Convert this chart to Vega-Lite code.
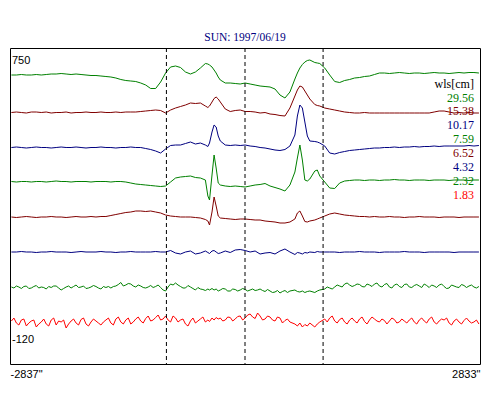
{
  "$schema": "https://vega.github.io/schema/vega-lite/v6.json",
  "width": 470,
  "height": 316,
  "autosize": {"type": "none"},
  "padding": {"left": 10, "top": 48, "right": 20, "bottom": 36},
  "background": "white",
  "title": {"text": "SUN: 1997/06/19", "font": "Liberation Serif", "fontSize": 11.5, "fontWeight": "normal", "color": "#000080", "offset": 4, "anchor": "middle"},
  "config": {"view": {"stroke": "black", "strokeWidth": 1}},
  "datasets": {
    "curves": [
      {"x":-2820,"a":289,"b":251.5,"c":216.5,"d":182.5,"e":147,"f":112,"g":77,"h":43},
      {"x":-2760,"a":289,"b":252,"c":217,"d":182,"e":146.5,"f":112,"g":78,"h":41},
      {"x":-2700,"a":289.5,"b":251.5,"c":216.5,"d":182.5,"e":147,"f":112.5,"g":75.5,"h":44},
      {"x":-2640,"a":289,"b":251,"c":216,"d":182.5,"e":147.5,"f":112,"g":78,"h":38},
      {"x":-2580,"a":289,"b":252,"c":216.5,"d":182,"e":147,"f":112,"g":76,"h":43},
      {"x":-2520,"a":289.5,"b":252,"c":217,"d":182.5,"e":146.5,"f":111.5,"g":78.5,"h":37},
      {"x":-2460,"a":289,"b":251.5,"c":216.5,"d":182.5,"e":147,"f":112,"g":77,"h":42},
      {"x":-2400,"a":289.5,"b":252,"c":216.5,"d":182,"e":147,"f":112,"g":75,"h":40},
      {"x":-2340,"a":290,"b":251,"c":216,"d":182.5,"e":147.5,"f":112.5,"g":76.5,"h":44},
      {"x":-2280,"a":290,"b":251.5,"c":216.5,"d":183,"e":147,"f":112,"g":78,"h":39},
      {"x":-2220,"a":290.5,"b":251.5,"c":217,"d":182.5,"e":147,"f":112,"g":74,"h":42},
      {"x":-2160,"a":290,"b":252,"c":216.5,"d":182.5,"e":146.5,"f":112,"g":77,"h":36},
      {"x":-2100,"a":289.5,"b":251,"c":216.5,"d":182,"e":147,"f":111.5,"g":76,"h":43},
      {"x":-2040,"a":290,"b":251.5,"c":217,"d":182.5,"e":147.5,"f":112,"g":79,"h":41},
      {"x":-1980,"a":289.5,"b":251.5,"c":216.5,"d":182.5,"e":147,"f":112.5,"g":77,"h":44.5},
      {"x":-1920,"a":289,"b":252,"c":216,"d":182.5,"e":147,"f":112,"g":75.5,"h":40},
      {"x":-1860,"a":288.5,"b":251.5,"c":216.5,"d":182,"e":147.5,"f":112,"g":77,"h":42},
      {"x":-1800,"a":288.5,"b":251.5,"c":216.5,"d":182.5,"e":147,"f":112,"g":77.5,"h":43},
      {"x":-1740,"a":288,"b":252,"c":217,"d":182.5,"e":147.5,"f":112.5,"g":75,"h":39},
      {"x":-1680,"a":287.5,"b":251.5,"c":216.5,"d":182.5,"e":147.5,"f":112,"g":76.5,"h":44},
      {"x":-1620,"a":287,"b":251.5,"c":216.5,"d":182,"e":148.5,"f":112,"g":76,"h":41},
      {"x":-1560,"a":286,"b":252,"c":216,"d":182.5,"e":149.5,"f":111.5,"g":78,"h":45},
      {"x":-1500,"a":284.5,"b":251.5,"c":216.5,"d":182.5,"e":150.5,"f":112,"g":81.5,"h":42},
      {"x":-1440,"a":283.5,"b":252,"c":216.5,"d":182,"e":151.5,"f":112,"g":79,"h":44},
      {"x":-1380,"a":283,"b":252,"c":217,"d":181,"e":152,"f":112.5,"g":80,"h":40},
      {"x":-1320,"a":282.5,"b":252,"c":216.5,"d":180,"e":153,"f":112,"g":77,"h":45},
      {"x":-1260,"a":281,"b":252.5,"c":216.5,"d":179.5,"e":153,"f":112,"g":78,"h":43},
      {"x":-1200,"a":279,"b":253,"c":215.5,"d":179,"e":152.5,"f":112,"g":76,"h":45.5},
      {"x":-1140,"a":275.5,"b":253.5,"c":214.5,"d":178.5,"e":153,"f":112,"g":78.5,"h":43},
      {"x":-1080,"a":275.5,"b":254,"c":213,"d":178,"e":152,"f":112.5,"g":77.5,"h":46.5},
      {"x":-1020,"a":282,"b":253.5,"c":211,"d":177.5,"e":151,"f":112,"g":76.5,"h":44},
      {"x":-960,"a":291,"b":251,"c":215,"d":178,"e":149,"f":112,"g":73,"h":48},
      {"x":-900,"a":297,"b":254,"c":218.5,"d":182,"e":148,"f":113.5,"g":80,"h":42},
      {"x":-840,"a":298,"b":256,"c":219,"d":186,"e":147.5,"f":111,"g":81,"h":46},
      {"x":-780,"a":296.5,"b":257.5,"c":219,"d":187,"e":147,"f":110,"g":77.5,"h":44},
      {"x":-720,"a":292,"b":259,"c":220.5,"d":187.5,"e":147,"f":112,"g":76,"h":40},
      {"x":-660,"a":290,"b":261,"c":222,"d":188,"e":147,"f":113,"g":77,"h":43},
      {"x":-600,"a":292,"b":260.5,"c":220,"d":186.5,"e":146.5,"f":110,"g":74,"h":41},
      {"x":-540,"a":296,"b":261,"c":221,"d":186,"e":146,"f":111,"g":75,"h":45},
      {"x":-480,"a":300.5,"b":258,"c":219,"d":184,"e":144.5,"f":113,"g":73.5,"h":42},
      {"x":-450,"a":300,"b":256.5,"c":217.5,"d":168,"e":143,"f":111.5,"g":75,"h":44},
      {"x":-430,"a":299,"b":258,"c":221,"d":164,"e":139,"f":110.5,"g":74,"h":42.5},
      {"x":-400,"a":297,"b":262,"c":232,"d":189,"e":152,"f":113,"g":75.5,"h":46},
      {"x":-375,"a":294,"b":265.5,"c":239,"d":209,"e":167,"f":113.5,"g":74,"h":44},
      {"x":-350,"a":291,"b":267,"c":237,"d":196,"e":158,"f":112,"g":75,"h":46.5},
      {"x":-325,"a":287,"b":265,"c":228,"d":181,"e":148,"f":110.5,"g":73,"h":45},
      {"x":-300,"a":284,"b":262,"c":223,"d":179,"e":146,"f":111,"g":74,"h":46},
      {"x":-240,"a":281,"b":255,"c":219,"d":178,"e":145.5,"f":113,"g":75,"h":44},
      {"x":-180,"a":281,"b":252.5,"c":218.5,"d":177.5,"e":145,"f":111.5,"g":73,"h":46.5},
      {"x":-120,"a":280.5,"b":253.5,"c":219,"d":178,"e":144.5,"f":114,"g":74.5,"h":45},
      {"x":-60,"a":280,"b":254,"c":218.5,"d":177.5,"e":145,"f":114.5,"g":74,"h":48},
      {"x":0,"a":281,"b":252.5,"c":219,"d":177,"e":145,"f":113.5,"g":74.5,"h":46},
      {"x":60,"a":280,"b":252.5,"c":218,"d":178,"e":144.5,"f":112,"g":74,"h":50},
      {"x":120,"a":279,"b":252,"c":217.5,"d":179,"e":144,"f":113,"g":73.5,"h":45.5},
      {"x":180,"a":278,"b":251,"c":216.5,"d":179.5,"e":144,"f":110,"g":75,"h":48},
      {"x":240,"a":277.5,"b":251.5,"c":216,"d":180.5,"e":143,"f":111,"g":72.5,"h":45},
      {"x":300,"a":277,"b":250,"c":215,"d":178,"e":142.5,"f":111.5,"g":73,"h":47},
      {"x":360,"a":275,"b":249.5,"c":214,"d":176.5,"e":142,"f":110,"g":72,"h":43},
      {"x":420,"a":269,"b":248.5,"c":213.5,"d":175,"e":141,"f":113,"g":71,"h":46},
      {"x":480,"a":266,"b":248,"c":214.5,"d":173,"e":141,"f":115,"g":73.5,"h":43.5},
      {"x":540,"a":272,"b":256,"c":218,"d":179,"e":142,"f":112,"g":73,"h":42},
      {"x":600,"a":285,"b":268,"c":229,"d":192,"e":145,"f":109.5,"g":74,"h":40},
      {"x":630,"a":291,"b":274,"c":248,"d":206,"e":151,"f":111.5,"g":72.5,"h":38},
      {"x":660,"a":296,"b":278,"c":259,"d":219,"e":153,"f":111,"g":72,"h":41},
      {"x":690,"a":299.5,"b":277,"c":256,"d":204,"e":148,"f":110,"g":73,"h":37},
      {"x":720,"a":302,"b":273,"c":242,"d":184,"e":142.5,"f":111.5,"g":71.5,"h":39.5},
      {"x":750,"a":303.5,"b":269,"c":228,"d":183,"e":142,"f":111,"g":72.5,"h":38},
      {"x":780,"a":304,"b":265,"c":223,"d":185,"e":143,"f":112,"g":73,"h":41},
      {"x":840,"a":301.5,"b":259.5,"c":222.5,"d":193,"e":144,"f":111.5,"g":71.5,"h":37},
      {"x":870,"a":301,"b":258.5,"c":222,"d":194,"e":145,"f":112.5,"g":73,"h":40},
      {"x":900,"a":300.5,"b":258,"c":221,"d":188,"e":146,"f":112,"g":74,"h":42},
      {"x":960,"a":296,"b":256,"c":218,"d":182,"e":148,"f":112,"g":75,"h":45},
      {"x":1020,"a":289,"b":255,"c":211,"d":176,"e":150,"f":112,"g":76,"h":46},
      {"x":1080,"a":282.5,"b":254,"c":210,"d":175.5,"e":151,"f":112,"g":77,"h":43},
      {"x":1140,"a":281.5,"b":253,"c":211.5,"d":181,"e":150,"f":111.5,"g":78,"h":44.5},
      {"x":1200,"a":283.5,"b":252,"c":212.5,"d":183,"e":149,"f":112,"g":80,"h":42},
      {"x":1260,"a":284.5,"b":251.5,"c":213.5,"d":183.5,"e":148.5,"f":112,"g":79,"h":44},
      {"x":1320,"a":286,"b":251,"c":214,"d":184,"e":148,"f":112,"g":78.5,"h":43},
      {"x":1380,"a":286.5,"b":251,"c":214.5,"d":184,"e":147.5,"f":112.5,"g":79.5,"h":45},
      {"x":1440,"a":287.5,"b":251.5,"c":215,"d":183.5,"e":147.5,"f":112,"g":77,"h":42.5},
      {"x":1500,"a":288,"b":251,"c":215.5,"d":184,"e":147,"f":112,"g":79,"h":44},
      {"x":1560,"a":289.5,"b":251,"c":216,"d":184,"e":147.5,"f":112,"g":80,"h":45},
      {"x":1620,"a":291,"b":251,"c":216,"d":183.5,"e":147,"f":111.5,"g":78,"h":42},
      {"x":1680,"a":291,"b":251,"c":216.5,"d":184,"e":147,"f":112,"g":79.5,"h":43.5},
      {"x":1740,"a":290.5,"b":251,"c":216.5,"d":184,"e":147.5,"f":112,"g":77,"h":43},
      {"x":1800,"a":291,"b":251,"c":217,"d":184.5,"e":147,"f":112,"g":79,"h":44.5},
      {"x":1860,"a":291.5,"b":251,"c":216.5,"d":184,"e":147,"f":112,"g":77.5,"h":42},
      {"x":1920,"a":291,"b":251,"c":217,"d":184,"e":146.5,"f":112.5,"g":79.5,"h":43},
      {"x":1980,"a":290.5,"b":251,"c":217,"d":183.5,"e":147,"f":112,"g":77,"h":44},
      {"x":2040,"a":291,"b":251,"c":217.5,"d":184,"e":147,"f":112,"g":78.5,"h":42},
      {"x":2100,"a":291,"b":251,"c":217,"d":184,"e":147.5,"f":112,"g":78,"h":44},
      {"x":2160,"a":290.5,"b":251,"c":217.5,"d":184,"e":147,"f":111.5,"g":80,"h":43},
      {"x":2220,"a":291,"b":251,"c":217.5,"d":183.5,"e":147,"f":112,"g":76.5,"h":45},
      {"x":2280,"a":291.5,"b":252,"c":218,"d":184,"e":147,"f":112,"g":78,"h":42},
      {"x":2340,"a":291,"b":253,"c":217.5,"d":184,"e":146.5,"f":112,"g":79,"h":43},
      {"x":2400,"a":291,"b":253,"c":218,"d":184,"e":147,"f":112,"g":77.5,"h":44},
      {"x":2460,"a":290.5,"b":252,"c":218,"d":183.5,"e":147,"f":112,"g":76,"h":41},
      {"x":2520,"a":291,"b":251,"c":218,"d":184,"e":147,"f":111.5,"g":78,"h":43},
      {"x":2580,"a":291.5,"b":251.5,"c":218,"d":184,"e":146.5,"f":112,"g":76.5,"h":42},
      {"x":2640,"a":291,"b":251,"c":218,"d":184,"e":147,"f":112,"g":78.5,"h":43.5},
      {"x":2700,"a":291.5,"b":251.5,"c":218.5,"d":183.5,"e":147,"f":112,"g":78,"h":43},
      {"x":2760,"a":291.5,"b":251,"c":218,"d":184,"e":147,"f":112,"g":77,"h":42},
      {"x":2820,"a":291,"b":251,"c":218.5,"d":184,"e":147,"f":112,"g":77.5,"h":40},
      {"x":-2790,"g":76,"h":46},{"x":-2730,"g":77,"h":39},{"x":-2670,"g":77.5,"h":45},{"x":-2610,"g":75.5,"h":41},
      {"x":-2550,"g":77.5,"h":44},{"x":-2490,"g":76,"h":40},{"x":-2430,"g":76.5,"h":45},{"x":-2370,"g":77.5,"h":38},
      {"x":-2310,"g":78,"h":46},{"x":-2250,"g":76,"h":43},{"x":-2190,"g":75.5,"h":44},{"x":-2130,"g":78,"h":40},
      {"x":-2070,"g":77.5,"h":45},{"x":-2010,"g":76.5,"h":39},{"x":-1950,"g":78,"h":46},{"x":-1890,"g":76,"h":38},
      {"x":-1830,"g":78.5,"h":45},{"x":-1770,"g":76,"h":41},{"x":-1710,"g":77.5,"h":42},{"x":-1650,"g":77.5,"h":46},
      {"x":-1590,"g":77.5,"h":39},{"x":-1530,"g":79.5,"h":47},{"x":-1470,"g":78,"h":40},{"x":-1410,"g":80.5,"h":46},
      {"x":-1350,"g":78,"h":42},{"x":-1290,"g":79,"h":47},{"x":-1230,"g":76.5,"h":41},{"x":-1170,"g":77,"h":48},
      {"x":-1110,"g":76.5,"h":44},{"x":-1050,"g":79,"h":49},{"x":-990,"g":74,"h":45},{"x":-930,"g":77,"h":44},
      {"x":-870,"g":79,"h":48},{"x":-810,"g":79,"h":42},{"x":-750,"g":76,"h":45},{"x":-690,"g":78.5,"h":38},
      {"x":-630,"g":75.5,"h":46},{"x":-570,"g":76.5,"h":43},{"x":-510,"g":74.5,"h":47},
      {"x":-270,"g":75.5,"h":43},{"x":-210,"g":73,"h":47},{"x":-150,"g":75,"h":43},{"x":-90,"g":73,"h":47.5},
      {"x":-30,"g":75.5,"h":44},{"x":30,"g":73,"h":49},{"x":90,"g":75,"h":47},{"x":150,"g":74,"h":51},
      {"x":210,"g":73.5,"h":44},{"x":270,"g":74.5,"h":48},{"x":330,"g":71.5,"h":44},{"x":390,"g":73.5,"h":47},
      {"x":450,"g":72.5,"h":41},{"x":510,"g":71.5,"h":45},
      {"x":990,"g":77,"h":42},{"x":1050,"g":75,"h":48},{"x":1110,"g":79,"h":41},{"x":1170,"g":77,"h":46},
      {"x":1230,"g":81,"h":40},{"x":1290,"g":77.5,"h":46},{"x":1350,"g":80,"h":41},{"x":1410,"g":77.5,"h":47},
      {"x":1470,"g":80,"h":40},{"x":1530,"g":77.5,"h":47},{"x":1590,"g":81,"h":43},{"x":1650,"g":77,"h":45},
      {"x":1710,"g":80.5,"h":40},{"x":1770,"g":76,"h":46},{"x":1830,"g":80,"h":41},{"x":1890,"g":76.5,"h":45},
      {"x":1950,"g":80,"h":41},{"x":2010,"g":76.5,"h":46},{"x":2070,"g":79.5,"h":40},{"x":2130,"g":76.5,"h":46},
      {"x":2190,"g":78.5,"h":41},{"x":2250,"g":79,"h":47},{"x":2310,"g":76.5,"h":40},{"x":2370,"g":80,"h":45},
      {"x":2430,"g":75.5,"h":46},{"x":2490,"g":79,"h":39},{"x":2550,"g":77,"h":45},{"x":2610,"g":79.5,"h":40},
      {"x":2670,"g":76.5,"h":46},{"x":2730,"g":79,"h":41},{"x":2790,"g":76,"h":44}
    ],
    "marks": [{"x":-950},{"x":-2},{"x":940}],
    "ends": [{"t":"750","x":-2813,"y":303},{"t":"-120","x":-2813,"y":24}],
    "legend": [
      {"t":"wls[cm]","c":"#000000","y":280},
      {"t":"29.56","c":"#008000","y":266.5},
      {"t":"15.38","c":"#800000","y":252.6},
      {"t":"10.17","c":"#000080","y":238.7},
      {"t":"7.59","c":"#008000","y":224.8},
      {"t":"6.52","c":"#800000","y":211},
      {"t":"4.32","c":"#000080","y":197},
      {"t":"2.32","c":"#008000","y":183},
      {"t":"1.83","c":"#ff0000","y":169}
    ]
  },
  "layer": [
    {
      "data": {"name": "curves"},
      "transform": [
        {"fold": ["a","b","c","d","e","f","g","h"], "as": ["series","val"]},
        {"filter": "isValid(datum.val)"}
      ],
      "mark": {"type": "line", "strokeWidth": 1, "interpolate": "linear"},
      "encoding": {
        "x": {"field": "x", "type": "quantitative", "scale": {"domain": [-2837, 2833], "nice": false, "zero": false},
              "axis": {"values": [-2837, 2833], "labelExpr": "datum.value + '\"'", "labelFlush": true, "ticks": false, "domain": false, "grid": false, "title": null, "labelFont": "Liberation Sans", "labelFontSize": 11, "labelColor": "#000000", "labelPadding": 4}},
        "y": {"field": "val", "type": "quantitative", "scale": {"domain": [0, 316], "nice": false, "zero": false}, "axis": null},
        "color": {"field": "series", "type": "nominal", "legend": null,
                  "scale": {"domain": ["a","b","c","d","e","f","g","h"], "range": ["#008000","#800000","#000080","#008000","#800000","#000080","#008000","#ff0000"]}}
      }
    },
    {
      "data": {"name": "marks"},
      "mark": {"type": "rule", "color": "#000000", "strokeWidth": 1, "strokeDash": [4, 3]},
      "encoding": {
        "x": {"field": "x", "type": "quantitative", "scale": {"domain": [-2837, 2833], "nice": false, "zero": false}}
      }
    },
    {
      "data": {"name": "ends"},
      "mark": {"type": "text", "align": "left", "baseline": "middle", "font": "Liberation Sans", "fontSize": 11, "color": "#000000"},
      "encoding": {
        "x": {"field": "x", "type": "quantitative", "scale": {"domain": [-2837, 2833], "nice": false, "zero": false}},
        "y": {"field": "y", "type": "quantitative", "scale": {"domain": [0, 316], "nice": false, "zero": false}},
        "text": {"field": "t"}
      }
    },
    {
      "data": {"name": "legend"},
      "mark": {"type": "text", "align": "right", "baseline": "middle", "font": "Liberation Serif", "fontSize": 12},
      "encoding": {
        "x": {"datum": 2760, "type": "quantitative", "scale": {"domain": [-2837, 2833], "nice": false, "zero": false}},
        "y": {"field": "y", "type": "quantitative", "scale": {"domain": [0, 316], "nice": false, "zero": false}},
        "text": {"field": "t"},
        "color": {"field": "c", "type": "nominal", "scale": null}
      }
    }
  ]
}
